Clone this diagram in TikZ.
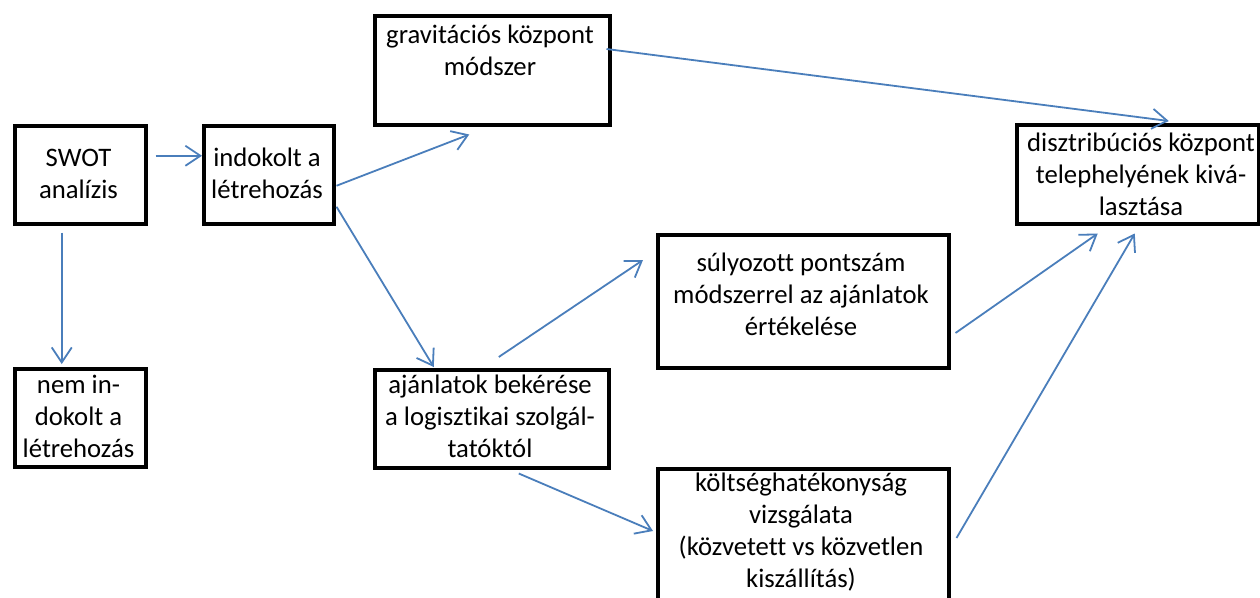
\documentclass[tikz,border=0pt]{standalone}
\usepackage{fontspec}
\setmainfont{Carlito}[Ligatures=NoCommon]
\usetikzlibrary{arrows.meta}
\definecolor{arrowblue}{RGB}{74,126,187}
\begin{document}
\begin{tikzpicture}[x=1pt,y=-1pt,
  box/.style={draw=black,line width=3.5pt,rectangle,inner sep=0pt,anchor=north west},
  lbl/.style={align=center,anchor=base,inner sep=0pt,font=\fontsize{26.7}{32}\selectfont},
  conn/.style={draw=arrowblue,line width=1.8pt,-{Straight Barb[length=15pt,width=20pt,line width=1.8pt]}}]
\useasboundingbox (0,0) rectangle (1260,597);
% boxes
\node[box,minimum width=131pt,minimum height=98pt] (swot) at (13,124) {};
\node[box,minimum width=130pt,minimum height=98pt] (indok) at (202,124) {};
\node[box,minimum width=235pt,minimum height=109pt] (grav) at (373,14) {};
\node[box,minimum width=242pt,minimum height=99pt] (disztr) at (1015,123) {};
\node[box,minimum width=291pt,minimum height=133pt] (suly) at (656,233) {};
\node[box,minimum width=234pt,minimum height=98pt] (ajanl) at (373,368) {};
\node[box,minimum width=291pt,minimum height=140pt] (kolt) at (656,467) {};
\node[box,minimum width=131pt,minimum height=98pt] (nem) at (13,367) {};
% labels (anchor base = last line baseline)
\node[lbl] (swot-t) at (78.5,198) {SWOT\\analízis};
\node[lbl] (indok-t) at (267,198) {indokolt a\\létrehozás};
\node[lbl] (grav-t) at (490,75) {gravitációs központ\\módszer};
\node[lbl] (disztr-t) at (1141,215) {disztribúciós központ\\telephelyének kivá-\\lasztása};
\node[lbl] (suly-t) at (801,335) {súlyozott pontszám\\módszerrel az ajánlatok\\értékelése};
\node[lbl] (ajanl-t) at (490,457) {ajánlatok bekérése\\a logisztikai szolgál-\\tatóktól};
\node[lbl] (kolt-t) at (801,587) {költséghatékonyság\\vizsgálata\\(közvetett vs közvetlen\\kiszállítás)};
\node[lbl] (nem-t) at (78.5,457) {nem in-\\dokolt a\\létrehozás};
% connectors
\draw[conn] ([xshift=8pt,yshift=19pt]swot.east) -- ([yshift=19pt]indok.west);
\draw[conn] ([xshift=-18.5pt,yshift=-7pt]swot.south) -- ([xshift=-18.5pt,yshift=3pt]nem.north);
\draw[conn] ([xshift=1pt,yshift=-11pt]indok.east) -- ([xshift=-23pt,yshift=-8pt]grav.south);
\draw[conn] ([xshift=1pt,yshift=-32pt]indok.east) -- ([xshift=-58pt,yshift=1pt]ajanl.north);
\draw[conn] ([xshift=-5pt,yshift=-35pt]grav.north east) -- ([xshift=31pt,yshift=2pt]disztr.north);
\draw[conn] ([xshift=7pt,yshift=11pt]ajanl.north) -- ([xshift=-13pt,yshift=-27pt]suly.north west);
\draw[conn] ([xshift=5pt,yshift=-100pt]suly.north east) -- ([xshift=-40pt,yshift=-8pt]disztr.south);
\draw[conn] ([xshift=27pt,yshift=-4pt]ajanl.south) -- ([xshift=-3pt,yshift=-64pt]kolt.north west);
\draw[conn] ([xshift=6pt,yshift=-71pt]kolt.north east) -- ([xshift=-3pt,yshift=-8pt]disztr.south);
\end{tikzpicture}
\end{document}
